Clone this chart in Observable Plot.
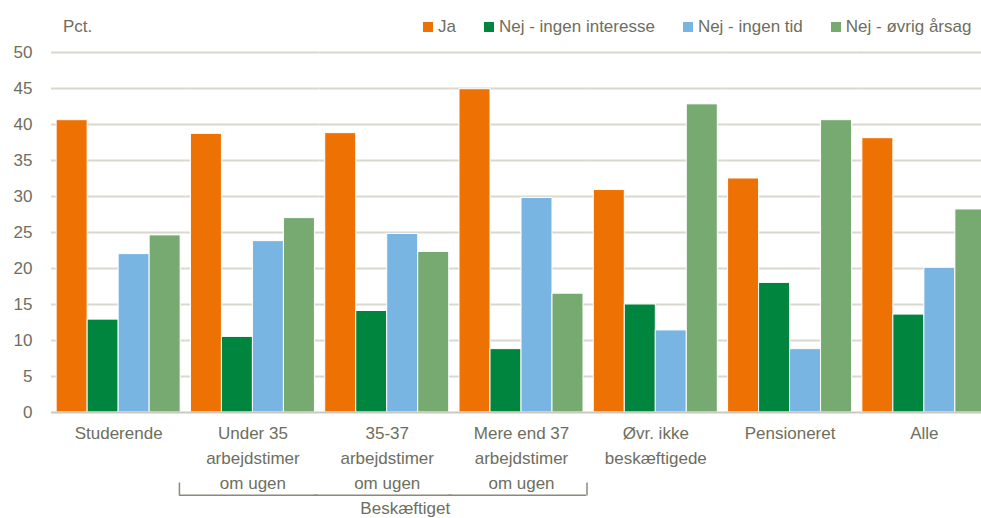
<!DOCTYPE html>
<html>
<head>
<meta charset="utf-8">
<script src="https://cdn.jsdelivr.net/npm/d3@7"></script>
<script src="https://cdn.jsdelivr.net/npm/@observablehq/plot@0.6"></script>
<style>
  html, body { margin: 0; padding: 0; background: white; overflow: hidden; }
  #wrap { width: 981px; font-family: "Liberation Sans", Arial, sans-serif; color: #6e6e5e; }
  #header { position: relative; height: 42px; font-size: 17px; }
  #pct { position: absolute; left: 63px; top: 17px; line-height: 20px; }
  #legend { position: absolute; left: 423px; top: 17px; display: flex; gap: 28px; line-height: 20px; white-space: nowrap; }
  .item { display: flex; align-items: center; }
  .sw { width: 10px; height: 10px; margin-right: 5px; display: inline-block; }
</style>
</head>
<body>
<div id="wrap">
  <div id="header"><div id="pct">Pct.</div><div id="legend"></div></div>
  <div id="chart"></div>
</div>
<script>
const groups = ["Studerende", "Under 35", "35-37", "Mere end 37", "Øvr. ikke beskæftigede", "Pensioneret", "Alle"];
const groupLabels = ["Studerende", "Under 35\narbejdstimer\nom ugen", "35-37\narbejdstimer\nom ugen", "Mere end 37\narbejdstimer\nom ugen", "Øvr. ikke\nbeskæftigede", "Pensioneret", "Alle"];
const series = ["Ja", "Nej - ingen interesse", "Nej - ingen tid", "Nej - øvrig årsag"];
const colors = ["#ee7203", "#00853e", "#78b5e3", "#76aa70"];
const ja             = [40.6, 38.7, 38.8, 44.9, 30.9, 32.5, 38.1];
const ingenInteresse = [12.9, 10.5, 14.1,  8.8, 15.0, 18.0, 13.6];
const ingenTid       = [22.0, 23.8, 24.8, 29.8, 11.4,  8.8, 20.1];
const oevrigAarsag   = [24.6, 27.0, 22.3, 16.5, 42.8, 40.6, 28.2];
const yTicks = [0, 5, 10, 15, 20, 25, 30, 35, 40, 45, 50];
const bracketGroups = ["Under 35", "35-37", "Mere end 37"];
const bracketLabel = "Beskæftiget";

const seriesValues = [ja, ingenInteresse, ingenTid, oevrigAarsag];
const data = [];
groups.forEach((g, i) => series.forEach((s, j) => data.push({group: g, series: s, value: seriesValues[j][i]})));
const labelOf = new Map(groups.map((g, i) => [g, groupLabels[i]]));

// legend
const legend = document.getElementById("legend");
series.forEach((s, j) => {
  const it = document.createElement("div");
  it.className = "item";
  it.innerHTML = `<span class="sw" style="background:${colors[j]}"></span><span>${s}</span>`;
  legend.appendChild(it);
});

const textColor = "#6e6e5e";
const bracketColor = "#8a8a7a";
const chart = Plot.plot({
  width: 981,
  height: 476,
  marginTop: 10,
  marginBottom: 106,
  marginLeft: 51,
  marginRight: -10,
  style: {fontSize: "17px", fontFamily: "'Liberation Sans', Arial, sans-serif", color: textColor, background: "white", overflow: "hidden"},
  fx: {domain: groups, padding: 0, round: false, axis: null, label: null},
  x: {domain: series, paddingInner: 0, paddingOuter: 0.166, round: false, axis: null},
  y: {domain: [0, 50], ticks: yTicks, tickSize: 0, tickPadding: 19, label: null, tickFormat: d => String(d)},
  color: {domain: series, range: colors},
  marks: [
    Plot.ruleY(yTicks.filter(d => d > 0), {stroke: "#d8d8cf", strokeWidth: 2}),
    Plot.barY(data, {fx: "group", x: "series", y: "value", fill: "series", stroke: "white", strokeWidth: 1}),
    Plot.ruleY([0], {stroke: "#c9c9bf", strokeWidth: 2}),
    Plot.text(groups, {fx: d => d, text: d => labelOf.get(d), frameAnchor: "bottom", lineAnchor: "top", dy: 9, lineHeight: 1.47, fontSize: 17, fill: textColor}),
    Plot.ruleY(bracketGroups, {fx: d => d, y: () => -11.5, insetLeft: -6, insetRight: 2, stroke: bracketColor, strokeWidth: 1.5}),
    Plot.ruleX([bracketGroups[0]], {fx: d => d, x: () => series[0], y1: () => -9.8, y2: () => -11.6, dx: -27, stroke: bracketColor, strokeWidth: 1.5}),
    Plot.ruleX([bracketGroups[bracketGroups.length - 1]], {fx: d => d, x: () => series[series.length - 1], y1: () => -9.8, y2: () => -11.6, dx: 19, stroke: bracketColor, strokeWidth: 1.5}),
    Plot.text([bracketLabel], {fx: () => bracketGroups[1], text: d => d, y: () => -13.3, dx: 18, fontSize: 17, fill: textColor})
  ]
});
document.getElementById("chart").appendChild(chart);
</script>
</body>
</html>
